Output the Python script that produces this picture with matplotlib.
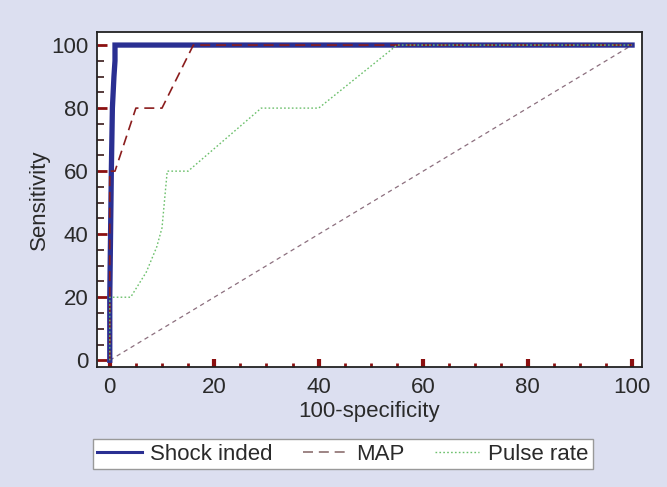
import matplotlib
matplotlib.use("Agg")
import matplotlib.pyplot as plt
from matplotlib.ticker import MultipleLocator

plt.rcParams['font.family'] = ['Liberation Sans', 'DejaVu Sans']

# Data
shock_x = [0, 0, 0.3, 0.5, 0.8, 1, 1, 100]
shock_y = [0, 20, 60, 80, 90, 95, 100, 100]
map_x = [0, 0, 1, 5, 10, 16, 100]
map_y = [0, 60, 60, 80, 80, 100, 100]
pulse_x = [0, 0, 4, 7, 9, 10, 11, 15, 29, 40, 55, 100]
pulse_y = [0, 20, 20, 28, 36, 42, 60, 60, 80, 80, 100, 100]
diag_x = [0, 100]
diag_y = [0, 100]
labels = ["Shock inded", "MAP", "Pulse rate"]

bg = "#dcdff0"
fig = plt.figure(figsize=(6.67, 4.87), dpi=100, facecolor=bg)
ax = fig.add_axes([0.145, 0.246, 0.8175, 0.688])
ax.set_facecolor("white")

l1, = ax.plot(shock_x, shock_y, color="#2a2f92", lw=3.8, solid_joinstyle="miter", label=labels[0], zorder=3)
l2, = ax.plot(map_x, map_y, color="#8b1d1d", lw=1.2, dashes=(6, 3.5), label=labels[1], zorder=4)
l3, = ax.plot(pulse_x, pulse_y, color="#6cc06c", lw=1.0, dashes=(1.2, 1.6), label=labels[2], zorder=5)
ax.plot(diag_x, diag_y, color="#8c6f7e", lw=0.9, dashes=(3.5, 3), zorder=2)

ax.set_xlim(-2.5, 101.9)
ax.set_ylim(-2.2, 104.1)
ax.xaxis.set_major_locator(MultipleLocator(20))
ax.xaxis.set_minor_locator(MultipleLocator(5))
ax.yaxis.set_major_locator(MultipleLocator(20))
ax.yaxis.set_minor_locator(MultipleLocator(5))

ax.tick_params(axis='x', which='major', direction='in', length=6, width=3, color="#8b1010",
               labelsize=16, pad=7, labelcolor="#2a2a2a")
ax.tick_params(axis='x', which='minor', direction='in', length=3, width=2, color="#8b1010")
ax.tick_params(axis='y', which='major', direction='in', length=7, width=2, color="#8b1010",
               labelsize=16, pad=6, labelcolor="#2a2a2a")
ax.tick_params(axis='y', which='minor', direction='in', length=5, width=1.2, color="#3a1a1a")

for s in ax.spines.values():
    s.set_color("#222222")
    s.set_linewidth(1.3)

ax.set_xlabel("100-specificity", fontsize=16, color="#2a2a2a", labelpad=2)
ax.set_ylabel("Sensitivity", fontsize=16, color="#2a2a2a", labelpad=1)

leg = fig.legend([l1, l2, l3], labels, loc="lower left", ncol=3, mode="expand",
                 bbox_to_anchor=(0.139, 0.037, 0.75, 0.068), fontsize=16, frameon=True,
                 fancybox=False, edgecolor="#999999", facecolor="white", framealpha=1,
                 handlelength=2.0, handletextpad=0.4, borderaxespad=0, borderpad=0.2)
leg.get_frame().set_linewidth(1.0)
for t in leg.get_texts():
    t.set_color("#2a2a2a")
legl = leg.get_lines()
legl[0].set_linewidth(2.2)
legl[1].set_color("#8c6f6f")

fig.savefig("out.png", dpi=100, facecolor=bg)
